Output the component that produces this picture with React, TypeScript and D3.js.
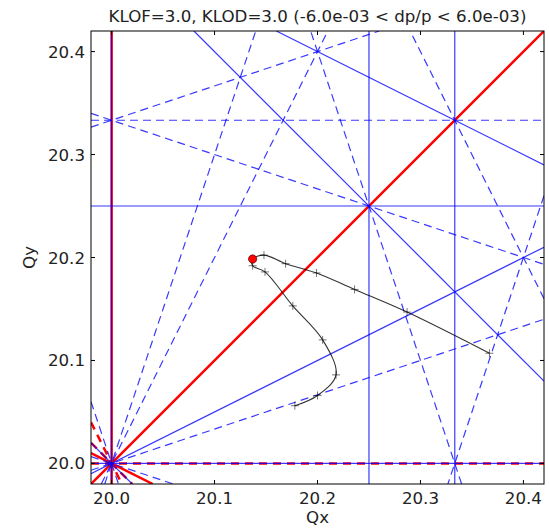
import React from "react";
import * as d3 from "d3";

const W = 549;
const H = 529;
const plot = { left: 91, right: 544, top: 31, bottom: 484 };

const xDomain: [number, number] = [19.98, 20.42];
const yDomain: [number, number] = [19.98, 20.42];
const xTicks = [20.0, 20.1, 20.2, 20.3, 20.4];
const yTicks = [20.0, 20.1, 20.2, 20.3, 20.4];

const titleText = "KLOF=3.0, KLOD=3.0 (-6.0e-03 < dp/p < 6.0e-03)";
const xLabel = "Qx";
const yLabel = "Qy";

// resonance lines m*Qx + n*Qy = p
const blueResonances: [number, number, number][] = [
  [3, 0, 61], [0, 3, 61],
  [2, 1, 61], [1, 2, 61],
  [2, -1, 20], [1, -2, -20],
  [4, 0, 80], [4, 0, 81], [0, 4, 80], [0, 4, 81],
  [3, 1, 80], [3, 1, 81], [1, 3, 80], [1, 3, 81],
  [2, 2, 80], [2, 2, 81],
  [3, -1, 40], [3, -1, 41], [1, -3, -40], [1, -3, -41],
];

const redResonances: [number, number, number][] = [
  [1, 0, 20], [0, 1, 20], [2, -2, 0], [1, 2, 60], [2, 1, 60], [1, 1, 40],
];

// tune track, ordered by dp/p from one end to the other
const trackQx = [20.178, 20.2, 20.218, 20.205, 20.176, 20.149, 20.137, 20.137, 20.148, 20.169, 20.199, 20.236, 20.287, 20.367];
const trackQy = [20.056, 20.066, 20.086, 20.12, 20.153, 20.186, 20.192, 20.1985, 20.2023, 20.194, 20.185, 20.169, 20.147, 20.107];
const nominalIndex = 7;

const FONT = "DejaVu Sans, Bitstream Vera Sans, sans-serif";
const FS = 16.67;

// clip the line m*qx + n*qy = p to the data box, returning two endpoints in data space
function clipResonance(m: number, n: number, p: number): [number, number][] | null {
  const [x0, x1] = xDomain;
  const [y0, y1] = yDomain;
  const cand: [number, number][] = [];
  const eps = 1e-9;
  if (n !== 0) {
    for (const qx of [x0, x1]) {
      const qy = (p - m * qx) / n;
      if (qy >= y0 - eps && qy <= y1 + eps) cand.push([qx, qy]);
    }
  }
  if (m !== 0) {
    for (const qy of [y0, y1]) {
      const qx = (p - n * qy) / m;
      if (qx >= x0 - eps && qx <= x1 + eps) cand.push([qx, qy]);
    }
  }
  if (cand.length < 2) return null;
  let best: [number, number][] = [cand[0], cand[1]];
  let bd = -1;
  for (let i = 0; i < cand.length; i++)
    for (let j = i + 1; j < cand.length; j++) {
      const d = (cand[i][0] - cand[j][0]) ** 2 + (cand[i][1] - cand[j][1]) ** 2;
      if (d > bd) { bd = d; best = [cand[i], cand[j]]; }
    }
  return best;
}

export default function App() {
  const x = d3.scaleLinear().domain(xDomain).range([plot.left, plot.right]);
  const y = d3.scaleLinear().domain(yDomain).range([plot.bottom, plot.top]);

  const resPath = (m: number, n: number, p: number) => {
    const seg = clipResonance(m, n, p);
    if (!seg) return "";
    return `M${x(seg[0][0])},${y(seg[0][1])}L${x(seg[1][0])},${y(seg[1][1])}`;
  };

  const pts: [number, number][] = trackQx.map((q, i) => [x(q), y(trackQy[i])]);
  const line = d3.line<[number, number]>().curve(d3.curveCatmullRom.alpha(0.5))(pts) || "";

  return (
    <div style={{ position: "absolute", left: 0, top: 0 }}>
      <svg width={W} height={H} style={{ display: "block", background: "#fff" }}>
        <defs>
          <clipPath id="plotClip">
            <rect x={plot.left} y={plot.top} width={plot.right - plot.left} height={plot.bottom - plot.top} />
          </clipPath>
        </defs>
        <rect x={0} y={0} width={W} height={H} fill="#fff" />
        <g clipPath="url(#plotClip)">
          {redResonances.map(([m, n, p], i) => (
            <path key={"r" + i} d={resPath(m, n, p)} stroke="#ff0000" strokeWidth={2.5}
              strokeDasharray={Math.abs(n) % 2 === 1 ? "8,6" : undefined} fill="none" />
          ))}
          {blueResonances.map(([m, n, p], i) => (
            <path key={"b" + i} d={resPath(m, n, p)} stroke="#0000ff" strokeOpacity={0.78} strokeWidth={1.2}
              strokeDasharray={Math.abs(n) % 2 === 1 ? "8,5" : undefined} fill="none" />
          ))}
          <path d={line} stroke="#000" strokeOpacity={0.8} strokeWidth={1.1} fill="none" />
          {pts.map(([px, py], i) => (
            <g key={"m" + i} stroke="#000" strokeOpacity={0.6} strokeWidth={0.9}>
              <line x1={px - 4} x2={px + 4} y1={py} y2={py} />
              <line x1={px} x2={px} y1={py - 4} y2={py + 4} />
            </g>
          ))}
          <circle cx={pts[nominalIndex][0]} cy={pts[nominalIndex][1]} r={4.2} fill="#ff0000" stroke="#000" strokeWidth={0.5} />
        </g>
        <rect x={plot.left} y={plot.top} width={plot.right - plot.left} height={plot.bottom - plot.top}
          fill="none" stroke="#000" strokeWidth={1} />
        {xTicks.map((t) => (
          <g key={"xt" + t}>
            <line x1={x(t)} x2={x(t)} y1={plot.bottom} y2={plot.bottom - 4} stroke="#000" />
            <line x1={x(t)} x2={x(t)} y1={plot.top} y2={plot.top + 4} stroke="#000" />
            <text x={x(t)} y={plot.bottom + 20} textAnchor="middle" fontFamily={FONT} fontSize={FS} fill="#222">
              {t.toFixed(1)}
            </text>
          </g>
        ))}
        {yTicks.map((t) => (
          <g key={"yt" + t}>
            <line x1={plot.left} x2={plot.left + 4} y1={y(t)} y2={y(t)} stroke="#000" />
            <line x1={plot.right} x2={plot.right - 4} y1={y(t)} y2={y(t)} stroke="#000" />
            <text x={plot.left - 6} y={y(t) + 6} textAnchor="end" fontFamily={FONT} fontSize={FS} fill="#222">
              {t.toFixed(1)}
            </text>
          </g>
        ))}
        <text x={(plot.left + plot.right) / 2} y={22} textAnchor="middle" fontFamily={FONT} fontSize={FS} fill="#222">
          {titleText}
        </text>
        <text x={(plot.left + plot.right) / 2} y={523} textAnchor="middle" fontFamily={FONT} fontSize={FS} fill="#222">
          {xLabel}
        </text>
        <text transform={`translate(35,${(plot.top + plot.bottom) / 2}) rotate(-90)`} textAnchor="middle"
          fontFamily={FONT} fontSize={FS} fill="#222">
          {yLabel}
        </text>
      </svg>
    </div>
  );
}
